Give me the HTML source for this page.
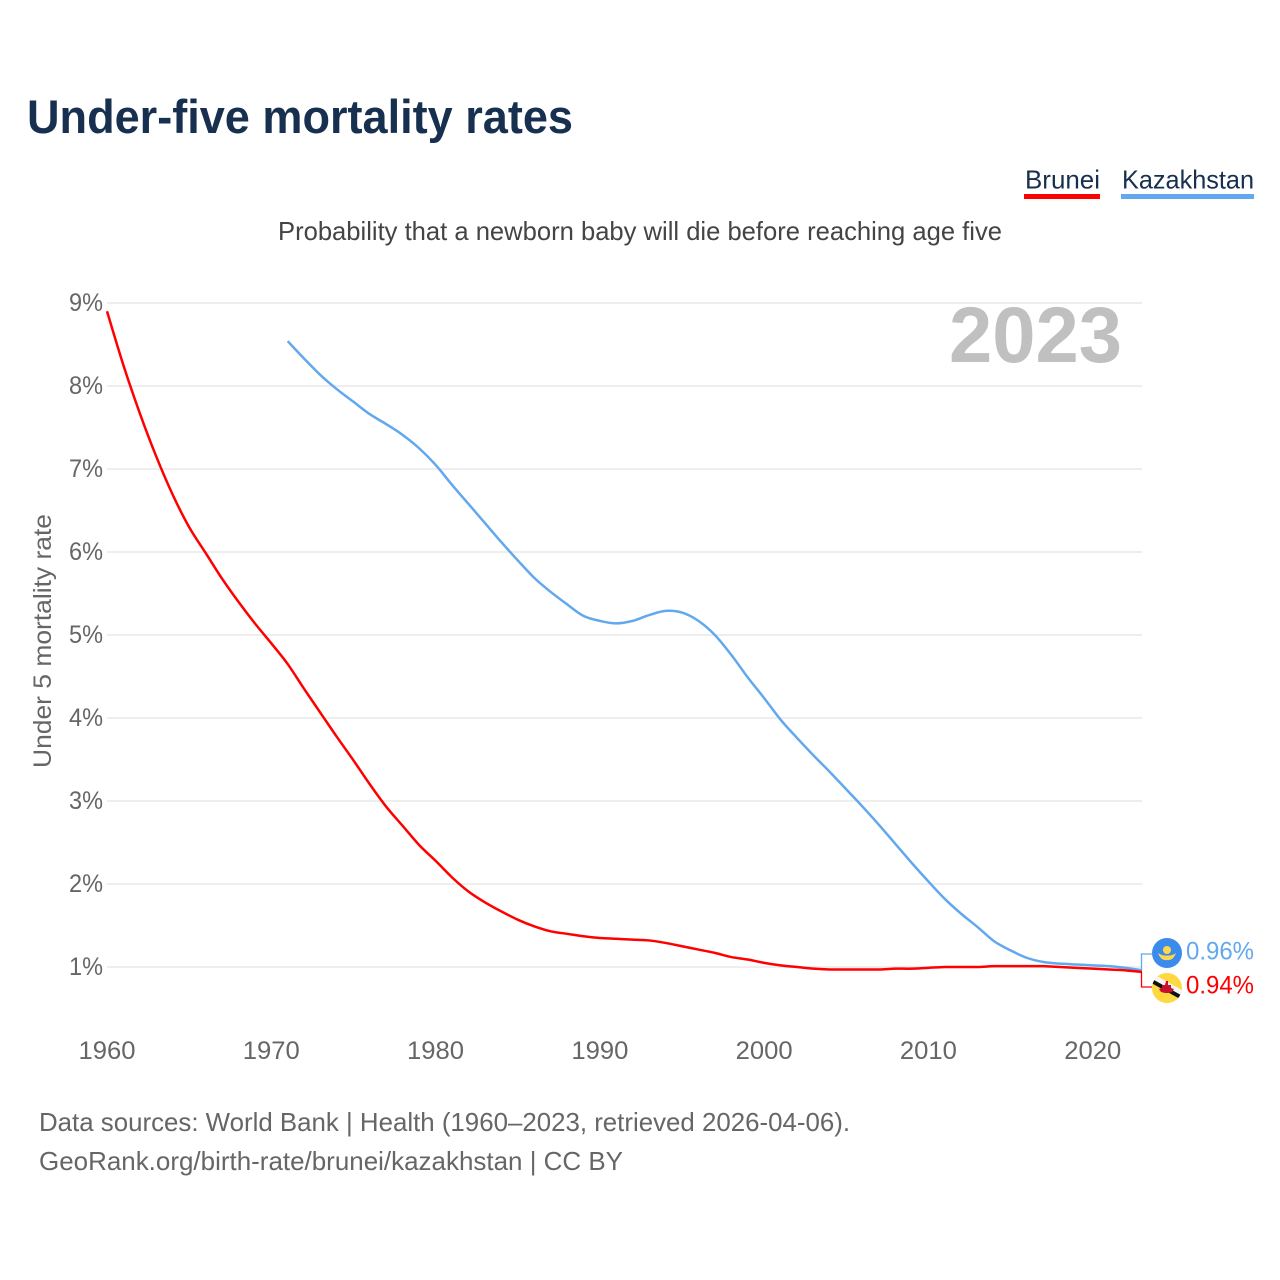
<!DOCTYPE html>
<html lang="en">
<head>
<meta charset="utf-8">
<title>Under-five mortality rates</title>
<style>
html,body{margin:0;padding:0;background:#fff;width:1280px;height:1280px;overflow:hidden}
svg{display:block}
text{font-family:"Liberation Sans",sans-serif}
</style>
</head>
<body>
<svg id="chart" xmlns="http://www.w3.org/2000/svg" width="1280" height="1280" viewBox="0 0 1280 1280">
  <rect width="1280" height="1280" fill="#fff"/>
  <text x="27" y="133" font-size="47" font-weight="700" fill="#18304f" textLength="546" lengthAdjust="spacingAndGlyphs">Under-five mortality rates</text>

  <g>
    <text x="1025" y="188.5" font-size="26" fill="#18304f" textLength="75" lengthAdjust="spacingAndGlyphs">Brunei</text>
    <rect x="1024" y="194" width="76" height="5" fill="#ff0000"/>
  </g>
  <g>
    <text x="1122" y="188.5" font-size="26" fill="#18304f" textLength="132" lengthAdjust="spacingAndGlyphs">Kazakhstan</text>
    <rect x="1121" y="194" width="133" height="5" fill="#62a8ee"/>
  </g>

  <text x="278" y="240" font-size="26" fill="#444" textLength="724" lengthAdjust="spacingAndGlyphs">Probability that a newborn baby will die before reaching age five</text>

  <g id="grid"></g>
  <g id="yticks"></g>
  <g id="xticks"></g>

  <text x="949" y="362" font-size="79" font-weight="700" fill="#c0c0c0" textLength="173" lengthAdjust="spacingAndGlyphs">2023</text>

  <text transform="translate(51,768) rotate(-90)" font-size="25" fill="#666" textLength="254" lengthAdjust="spacingAndGlyphs">Under 5 mortality rate</text>

  <g id="series"></g>

  <g id="end-labels"></g>

  <g>
    <circle cx="1167" cy="953" r="15" fill="#3a8bec"/>
    <circle cx="1167" cy="950" r="4" fill="#ffd84a"/>
    <path d="M1158 953 Q1161 961 1167 960 Q1173 961 1176 953 Q1172 956 1167 955.500 Q1162 956 1158 953Z" fill="#ffd84a"/>
  </g>
  <g>
    <defs><clipPath id="bn-clip"><circle cx="1167" cy="988" r="15"/></clipPath></defs>
    <circle cx="1167" cy="988" r="15" fill="#ffd83f"/>
    <g clip-path="url(#bn-clip)">
      <path d="M1150 975 L1184 994" stroke="#f5f5f5" stroke-width="5"/>
      <path d="M1150 980 L1184 999" stroke="#111" stroke-width="4"/>
    </g>
    <path d="M1166 981h2v4h3v3l3 1-2 3-4 1h-3l-4-1-2-3 3-1v-3h3z" fill="#c8102e"/>
  </g>

  <text x="39" y="1131" font-size="26" fill="#666" textLength="811" lengthAdjust="spacingAndGlyphs">Data sources: World Bank | Health (1960–2023, retrieved 2026-04-06).</text>
  <text x="39" y="1170" font-size="26" fill="#666" textLength="584" lengthAdjust="spacingAndGlyphs">GeoRank.org/birth-rate/brunei/kazakhstan | CC BY</text>
</svg>
<script>
var yTickValues = [1, 2, 3, 4, 5, 6, 7, 8, 9];
var yTickLabels = ["1%", "2%", "3%", "4%", "5%", "6%", "7%", "8%", "9%"];
var xTickYears = [1960, 1970, 1980, 1990, 2000, 2010, 2020];
var bruneiStartYear = 1960;
var bruneiValues = [8.9, 8.25, 7.67, 7.15, 6.69, 6.3, 5.99, 5.68, 5.4, 5.14, 4.9, 4.65, 4.35, 4.06, 3.77, 3.49, 3.2, 2.93, 2.7, 2.47, 2.28, 2.08, 1.91, 1.78, 1.67, 1.57, 1.49, 1.43, 1.4, 1.37, 1.35, 1.34, 1.33, 1.32, 1.29, 1.25, 1.21, 1.17, 1.12, 1.09, 1.05, 1.02, 1.0, 0.98, 0.97, 0.97, 0.97, 0.97, 0.98, 0.98, 0.99, 1.0, 1.0, 1.0, 1.01, 1.01, 1.01, 1.01, 1.0, 0.99, 0.98, 0.97, 0.96, 0.94];
var kazakhstanStartYear = 1971;
var kazakhstanValues = [8.54, 8.33, 8.13, 7.96, 7.81, 7.66, 7.54, 7.41, 7.25, 7.05, 6.81, 6.58, 6.35, 6.12, 5.9, 5.69, 5.52, 5.37, 5.23, 5.17, 5.14, 5.17, 5.24, 5.29, 5.27, 5.17, 5.0, 4.76, 4.49, 4.24, 3.98, 3.76, 3.55, 3.35, 3.14, 2.93, 2.71, 2.48, 2.25, 2.03, 1.82, 1.64, 1.48, 1.31, 1.2, 1.11, 1.06, 1.04, 1.03, 1.02, 1.01, 0.99, 0.96];

var NS = "http://www.w3.org/2000/svg";
function xScale(year) { return 107 + (year - 1960) * (1142 - 107) / 63; }
function yScale(v) { return 967 - (v - 1) * 83; }
function make(tag, attrs, parent, txt) {
  var el = document.createElementNS(NS, tag);
  for (var k in attrs) el.setAttribute(k, attrs[k]);
  if (txt !== undefined) el.textContent = txt;
  parent.appendChild(el);
  return el;
}
function linePath(startYear, values) {
  var pts = values.map(function (v, i) { return [xScale(startYear + i), yScale(v)]; });
  var d = "M" + pts[0][0].toFixed(2) + " " + pts[0][1].toFixed(2);
  for (var i = 0; i < pts.length - 1; i++) {
    var p0 = pts[Math.max(i - 1, 0)], p1 = pts[i], p2 = pts[i + 1], p3 = pts[Math.min(i + 2, pts.length - 1)];
    var c1x = p1[0] + (p2[0] - p0[0]) / 6, c1y = p1[1] + (p2[1] - p0[1]) / 6;
    var c2x = p2[0] - (p3[0] - p1[0]) / 6, c2y = p2[1] - (p3[1] - p1[1]) / 6;
    d += " C" + c1x.toFixed(2) + " " + c1y.toFixed(2) + " " + c2x.toFixed(2) + " " + c2y.toFixed(2) + " " + p2[0].toFixed(2) + " " + p2[1].toFixed(2);
  }
  return d;
}

var grid = document.getElementById("grid");
var yticks = document.getElementById("yticks");
var xticks = document.getElementById("xticks");
var series = document.getElementById("series");
var endLabels = document.getElementById("end-labels");

yTickValues.forEach(function (v, i) {
  var g = make("line", { x1: 107, x2: 1142, y1: yScale(v), y2: yScale(v), stroke: "#eeeeee", "stroke-width": 2 }, grid);
  
  
  var t = make("text", { x: 69, y: yScale(v) + 8, "font-size": 25, fill: "#666", textLength: 34, lengthAdjust: "spacingAndGlyphs" }, yticks, yTickLabels[i]);
  
  
});

xTickYears.forEach(function (y) {
  var t = make("text", { x: xScale(y), y: 1059, "text-anchor": "middle", "font-size": 25, fill: "#666", textLength: 57, lengthAdjust: "spacingAndGlyphs" }, xticks, String(y));
  
  
});

var kzLine = make("path", { d: linePath(kazakhstanStartYear, kazakhstanValues), fill: "none", stroke: "#62a8ee", "stroke-width": 2.5, "stroke-linejoin": "round" }, series);


var bnLine = make("path", { d: linePath(bruneiStartYear, bruneiValues), fill: "none", stroke: "#ff0000", "stroke-width": 2.5, "stroke-linejoin": "round" }, series);



var kzLast = kazakhstanValues[kazakhstanValues.length - 1];
var bnLast = bruneiValues[bruneiValues.length - 1];
var kzLeader = make("path", { d: "M1141.500 " + yScale(kzLast) + " V954 H1152", fill: "none", stroke: "#62a8ee", "stroke-width": 1.3 }, endLabels);


var bnLeader = make("path", { d: "M1141.500 " + yScale(bnLast) + " V987 H1152", fill: "none", stroke: "#ff0000", "stroke-width": 1.3 }, endLabels);


var kzLabel = make("text", { x: 1186, y: 959.5, "font-size": 25, fill: "#62a8ee", textLength: 68, lengthAdjust: "spacingAndGlyphs" }, endLabels, kzLast.toFixed(2) + "%");


var bnLabel = make("text", { x: 1186, y: 993.5, "font-size": 25, fill: "#ff0000", textLength: 68, lengthAdjust: "spacingAndGlyphs" }, endLabels, bnLast.toFixed(2) + "%");


</script>
</body>
</html>
